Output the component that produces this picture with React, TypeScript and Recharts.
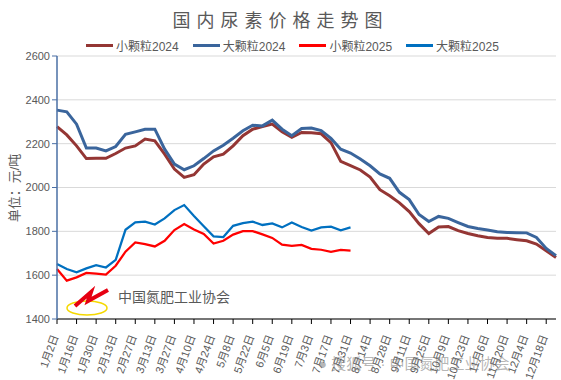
import React from "react";
import { LineChart, Line, XAxis, YAxis, CartesianGrid } from "recharts";

const DATES = [
  "1月2日", "1月9日", "1月16日", "1月23日", "1月30日", "2月6日", "2月13日", "2月20日", "2月27日",
  "3月6日", "3月13日", "3月20日", "3月27日", "4月3日", "4月10日", "4月17日", "4月24日",
  "5月1日", "5月8日", "5月15日", "5月22日", "5月29日", "6月5日", "6月12日", "6月19日", "6月26日",
  "7月3日", "7月10日", "7月17日", "7月24日", "7月31日", "8月7日", "8月14日", "8月21日", "8月28日",
  "9月4日", "9月11日", "9月18日", "9月25日", "10月2日", "10月9日", "10月16日", "10月23日", "10月30日",
  "11月6日", "11月13日", "11月20日", "11月27日", "12月4日", "12月11日", "12月18日", "12月25日",
];

const SMALL_2024 = [
  2278, 2240, 2190, 2132, 2133, 2133, 2155, 2180, 2190, 2221, 2213, 2152, 2084, 2046, 2058, 2107,
  2140, 2152, 2190, 2236, 2266, 2278, 2289, 2254, 2229, 2251, 2250, 2245, 2205, 2119, 2100, 2080,
  2048, 1990, 1962, 1930, 1890, 1835, 1790, 1820, 1822, 1803, 1790, 1780, 1772, 1769, 1768, 1762,
  1757, 1742, 1711, 1681,
];

const BIG_2024 = [
  2353, 2345, 2289, 2180, 2180, 2167, 2187, 2243, 2254, 2266, 2266, 2175, 2107, 2081, 2099, 2132,
  2167, 2193, 2225, 2259, 2284, 2281, 2307, 2266, 2236, 2269, 2271, 2260, 2224, 2175, 2157, 2130,
  2099, 2062, 2042, 1978, 1945, 1877, 1845, 1868, 1859, 1840, 1822, 1813, 1806, 1798, 1795, 1794,
  1793, 1772, 1722, 1689,
];

const SMALL_2025 = [
  1628, 1575, 1590, 1610, 1607, 1603, 1643, 1707, 1749, 1742, 1731, 1757, 1806, 1833, 1808, 1788,
  1744, 1757, 1785, 1801, 1801, 1786, 1770, 1739, 1734, 1738, 1720, 1716, 1706, 1715, 1712,
];

const BIG_2025 = [
  1651, 1628, 1613, 1631, 1646, 1635, 1670, 1807, 1841, 1844, 1831, 1859, 1897, 1920, 1870, 1823,
  1777, 1774, 1825, 1837, 1844, 1829, 1836, 1818, 1840, 1820, 1803, 1818, 1821, 1805, 1818,
];

const Y_TICKS = [1400, 1600, 1800, 2000, 2200, 2400, 2600];

const SERIES = [
  { key: "s24", name: "小颗粒2024", color: "#943634", width: 3 },
  { key: "b24", name: "大颗粒2024", color: "#3A659C", width: 3 },
  { key: "s25", name: "小颗粒2025", color: "#FF0000", width: 2.25 },
  { key: "b25", name: "大颗粒2025", color: "#0070C0", width: 2.25 },
];

const data = DATES.map((date, i) => ({
  date,
  s24: SMALL_2024[i],
  b24: BIG_2024[i],
  s25: SMALL_2025[i],
  b25: BIG_2025[i],
}));

const FONT = '"Liberation Sans", "Noto Sans CJK SC", sans-serif';
const GREY = "#595959";

function DateTick({ x, y, payload }: any) {
  return (
    <g transform={`translate(${x - 2},${y + 9})`}>
      <text
        transform="rotate(-70)"
        textAnchor="end"
        dominantBaseline="central"
        fontSize={11}
        fontFamily={FONT}
        fill={GREY}
      >
        {payload.value}
      </text>
    </g>
  );
}

function Logo() {
  return (
    <div style={{ position: "absolute", left: 60, top: 282, width: 200, height: 40 }}>
      <svg width={200} height={40}>
        <ellipse cx={27} cy={26} rx={20} ry={7} fill="none" stroke="#F5D800" strokeWidth={1.5} />
        <polyline
          points="15,24 31,10 28,19 48,8"
          fill="none"
          stroke="#E60012"
          strokeWidth={4}
          strokeLinejoin="miter"
        />
        <text x={58} y={20} fontSize={14} fontFamily={FONT} fill={GREY}>
          中国氮肥工业协会
        </text>
      </svg>
    </div>
  );
}

export default function App() {
  return (
    <div style={{ position: "absolute", left: 0, top: 0, width: 561, height: 380, background: "#fff" }}>
      <div
        style={{
          position: "absolute",
          left: 0,
          top: 6,
          width: 561,
          textAlign: "center",
          fontSize: 18,
          letterSpacing: 6,
          fontFamily: FONT,
          color: GREY,
        }}
      >
        国内尿素价格走势图
      </div>
      <div
        style={{
          position: "absolute",
          left: 86,
          top: 37,
          display: "flex",
          gap: 14,
          fontSize: 12,
          fontFamily: FONT,
          color: GREY,
        }}
      >
        {SERIES.map((s) => (
          <div key={s.key} style={{ display: "flex", alignItems: "center", gap: 3 }}>
            <span style={{ width: 27, height: 3, background: s.color, display: "inline-block" }} />
            <span>{s.name}</span>
          </div>
        ))}
      </div>
      <LineChart
        width={561}
        height={380}
        data={data}
        margin={{ top: 56, right: 5, bottom: 0, left: 0 }}
      >
        <CartesianGrid vertical={false} stroke="#D9D9D9" strokeWidth={1} />
        <XAxis
          dataKey="date"
          interval={1}
          height={61}
          tick={<DateTick />}
          tickSize={5}
          axisLine={{ stroke: "#000", strokeWidth: 1 }}
          tickLine={{ stroke: "#000" }}
        />
        <YAxis
          domain={[1400, 2600]}
          ticks={Y_TICKS}
          width={57}
          tickSize={5}
          axisLine={{ stroke: "#4A6FA5", strokeWidth: 1.5 }}
          tickLine={{ stroke: "#4A6FA5" }}
          tick={{ fontSize: 11, fontFamily: FONT, fill: GREY }}
        />
        {SERIES.map((s) => (
          <Line
            key={s.key}
            dataKey={s.key}
            name={s.name}
            stroke={s.color}
            strokeWidth={s.width}
            dot={false}
            type="linear"
            isAnimationActive={false}
          />
        ))}
      </LineChart>
      <div
        style={{
          position: "absolute",
          left: 13,
          top: 188,
          transform: "translate(-50%,-50%) rotate(-90deg)",
          fontSize: 13,
          fontFamily: FONT,
          color: GREY,
          whiteSpace: "nowrap",
        }}
      >
        单位：元/吨
      </div>
      <Logo />
      <div
        style={{
          position: "absolute",
          left: 318,
          top: 352,
          fontSize: 15,
          fontFamily: FONT,
          color: "rgba(120,120,120,0.55)",
          whiteSpace: "nowrap",
        }}
      >
        ● 搜狐号 · 中国氮肥工业协会
      </div>
    </div>
  );
}
